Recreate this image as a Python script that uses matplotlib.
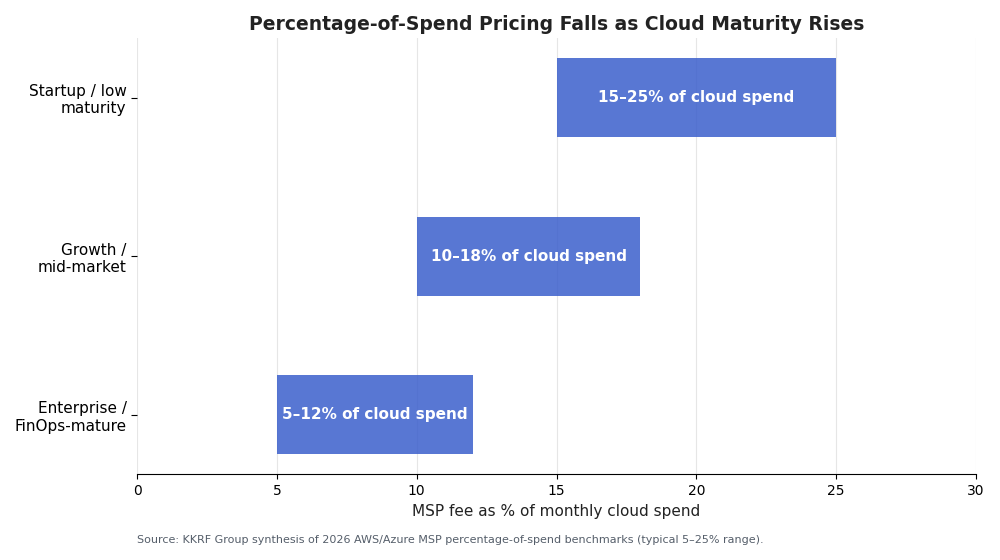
import matplotlib
matplotlib.use("Agg")
import matplotlib.pyplot as plt

# Data
segments = ["Enterprise /\nFinOps-mature", "Growth /\nmid-market", "Startup / low\nmaturity"]
fee_low = [5, 10, 15]
fee_high = [12, 18, 25]
bar_labels = ["5–12% of cloud spend", "10–18% of cloud spend", "15–25% of cloud spend"]

fig, ax = plt.subplots(figsize=(10, 5.6), dpi=100)
fig.subplots_adjust(left=0.137, right=0.976, top=0.932, bottom=0.153)

widths = [h - l for l, h in zip(fee_low, fee_high)]
ax.barh(segments, widths, left=fee_low, height=0.5, color="#3b5fcc", alpha=0.85, zorder=2)

for i, (l, w, lab) in enumerate(zip(fee_low, widths, bar_labels)):
    ax.text(l + w / 2, i, lab, ha="center", va="center", color="white",
            fontsize=11, fontweight="bold", zorder=3)

ax.set_xlim(0, 30)
ax.set_xticks([0, 5, 10, 15, 20, 25, 30])
ax.grid(axis="x", color="#e6e6e6", linewidth=0.8, zorder=0)
ax.set_axisbelow(True)
for s in ["top", "right", "left"]:
    ax.spines[s].set_visible(False)
ax.tick_params(axis="y", labelsize=11, length=4, pad=3.5)
ax.tick_params(axis="x", labelsize=10)
ax.set_xlabel("MSP fee as % of monthly cloud spend", fontsize=11, color="#222222")
ax.set_title("Percentage-of-Spend Pricing Falls as Cloud Maturity Rises",
             fontsize=13.5, fontweight="bold", color="#222222")

fig.text(0.137, 0.035, "Source: KKRF Group synthesis of 2026 AWS/Azure MSP percentage-of-spend benchmarks (typical 5–25% range).",
         fontsize=8, color="#555e6a", ha="left", va="center")

fig.savefig("out.png", dpi=100)
